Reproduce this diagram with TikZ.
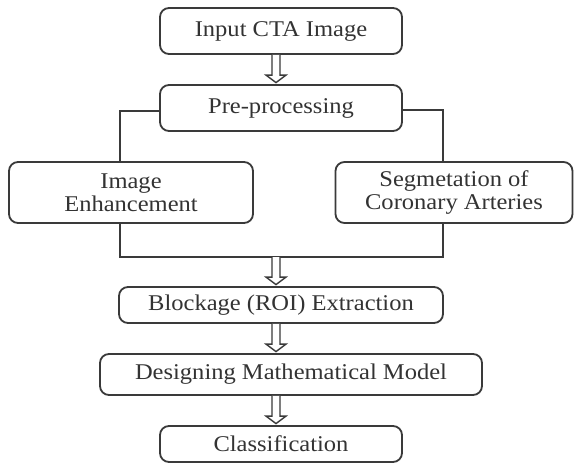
\documentclass[tikz,border=0pt]{standalone}
\usepackage{fontspec}
\setmainfont{Liberation Serif}[FakeStretch=1.09]
\usetikzlibrary{calc}
\definecolor{ink}{HTML}{3A3A3A}
\definecolor{txt}{HTML}{333333}
\tikzset{
  box/.style={draw=ink, line width=1.8pt, rounded corners=9pt, inner sep=0pt,
    align=center, text=txt, font=\fontsize{22.5}{23.5}\selectfont},
  link/.style={draw=ink, line width=1.6pt},
  harrow/.style={draw=ink, line width=1.4pt, line join=miter, fill=white}
}
\newcommand\harrowdraw[2]{%
  \path[harrow] let \p1=(#1), \p2=(#2) in
    (\x1-4pt,\y1) -- (\x1-4pt,\y2+9pt) -- (\x1-10pt,\y2+9pt) -- (\x1,\y2+1.5pt)
    -- (\x1+10pt,\y2+9pt) -- (\x1+4pt,\y2+9pt) -- (\x1+4pt,\y1);}
\begin{document}
\begin{tikzpicture}[x=1pt,y=-1pt]
\useasboundingbox (0,0) rectangle (575,464);
\fill[white] (0,0) rectangle (575,464);
\node[box, minimum width=242pt, minimum height=46pt] (in)  at (281,31)    {Input CTA Image};
\node[box, minimum width=242pt, minimum height=46pt] (pre) at (281,108)   {Pre-processing};
\node[box, minimum width=244pt, minimum height=61pt] (enh) at (131,192.5) {Image\\Enhancement};
\node[box, minimum width=237pt, minimum height=61pt] (seg) at (454,192.5) {Segmetation of\\Coronary Arteries};
\node[box, minimum width=324pt, minimum height=36pt] (blk) at (281,305)   {Blockage (ROI) Extraction};
\node[box, minimum width=382pt, minimum height=41pt] (des) at (291,374.5) {Designing Mathematical Model};
\node[box, minimum width=242pt, minimum height=36pt] (cls) at (281,444)   {Classification};
\coordinate (ax) at (276,0);
\coordinate (j) at (276,257);
% branches
\draw[link] ([yshift=-3pt]pre.west) -| ([xshift=-11pt]enh.north);
\draw[link] ([yshift=-2pt]pre.east) -| ([xshift=-11pt]seg.north);
\draw[link] ([xshift=-11pt]enh.south) |- (j) -| ([xshift=-11pt]seg.south);
% hollow arrows
\harrowdraw{in.south -| ax}{pre.north -| ax}
\harrowdraw{j}{blk.north -| ax}
\harrowdraw{blk.south -| ax}{des.north -| ax}
\harrowdraw{des.south -| ax}{cls.north -| ax}
\end{tikzpicture}
\end{document}
